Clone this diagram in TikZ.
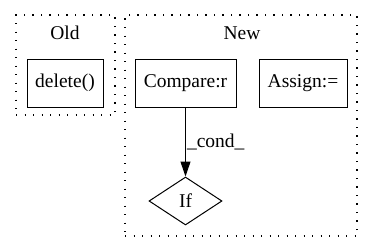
\documentclass[tikz,border=0pt]{standalone}
\usepackage{fontspec}
\setmainfont{Liberation Serif}
\usetikzlibrary{positioning,shapes.geometric,arrows.meta}
\tikzset{
 pdg cluster/.style={draw,line width=1.2pt,dash pattern=on 1.3pt off 7.2pt,
                     rectangle,inner sep=0pt},
 pdg op/.style={draw,line width=1pt,rectangle,minimum height=48pt,inner sep=0pt},
 pdg cond/.style={draw,line width=1pt,diamond,aspect=1.52,minimum width=73pt,
                  minimum height=48pt,inner sep=0pt},
 pdg flow/.style={line width=1pt,-{Triangle[length=15pt,width=10pt]}},
 pdg title/.style={inner sep=0pt},
 pdg edge label/.style={inner sep=1pt,anchor=west}
}

\begin{document}
\begin{tikzpicture}[x=1pt,y=-1pt,font=\fontsize{19.5}{23}\selectfont]
 \useasboundingbox (0,0) rectangle (373,252);
 % clusters
 \node[pdg cluster,minimum width=99pt,minimum height=100pt] (old) at (65.5,65) {};
 \node[pdg title] (oldtitle) at (65,33) {Old};
 \node[pdg cluster,minimum width=232pt,minimum height=221pt] (new) at (241,125.5) {};
 \node[pdg title] (newtitle) at (242,33) {New};
 % operations
 \node[pdg op,minimum width=76pt] (del) at (65,83) {delete()};
 \node[pdg op,minimum width=101pt] (cmp) at (185.5,83) {Compare:r};
 \node[pdg op,minimum width=88pt] (asg) at (303,83) {Assign:=};
 \node[pdg cond] (if) at (185.5,201) {If};
 \draw[pdg flow] (cmp) -- (if) node[pdg edge label,midway] {\_cond\_};
\end{tikzpicture}
\end{document}
